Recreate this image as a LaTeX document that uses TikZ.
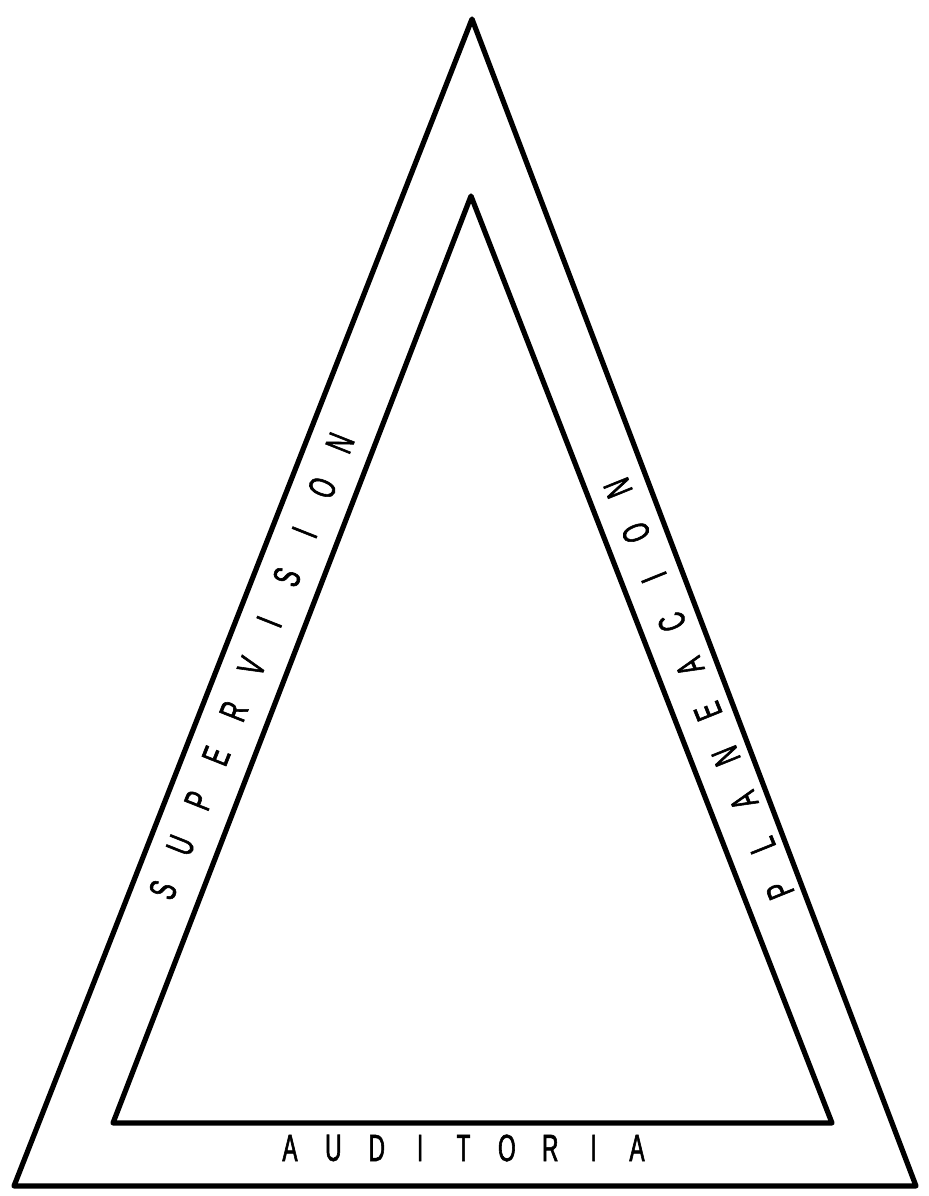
\documentclass[tikz,border=0pt]{standalone}
\usepackage{fontspec}
\newfontfamily\lettering{Liberation Sans}[FakeStretch=0.6, FakeBold=1.5]
\usetikzlibrary{calc}

\begin{document}
\begin{tikzpicture}[x=0.025cm, y=-0.025cm]
    \tikzstyle{side} = [draw, line width=3.7pt, line join=round]
    \tikzstyle{letter} = [inner sep=0pt, font=\lettering\fontsize{27}{27}\selectfont]
    \useasboundingbox [fill=white] (0,0) rectangle (928,1196);

    % outer triangle
    \coordinate (outertop) at (472,19);
    \coordinate (outerleft) at (14,1186);
    \coordinate (outerright) at (916,1186);
    % inner triangle
    \coordinate (innertop) at (471,196);
    \coordinate (innerleft) at (113,1123);
    \coordinate (innerright) at (832,1123);

    \path [side] (outertop) -- (outerleft) -- (outerright) -- cycle;
    \path [side] (innertop) -- (innerleft) -- (innerright) -- cycle;

    % lettering in the bands
    \coordinate (sup-start) at (163,890);
    \coordinate (sup-end) at (340,443);
    \coordinate (plan-start) at (780,890);
    \coordinate (plan-end) at (618,488);
    \coordinate (aud-start) at (290,1148);
    \coordinate (aud-end) at (637,1148);

    \foreach \ch [count=\i from 0] in {S,U,P,E,R,V,I,S,I,O,N}
        \node [letter, rotate=68.4] (sup\i) at ($(sup-start)!\i/10!(sup-end)$) {\ch};
    \foreach \ch [count=\i from 0] in {P,L,A,N,E,A,C,I,O,N}
        \node [letter, rotate=111.9] (plan\i) at ($(plan-start)!\i/9!(plan-end)$) {\ch};
    \foreach \ch [count=\i from 0] in {A,U,D,I,T,O,R,I,A}
        \node [letter] (aud\i) at ($(aud-start)!\i/8!(aud-end)$) {\ch};
\end{tikzpicture}
\end{document}
